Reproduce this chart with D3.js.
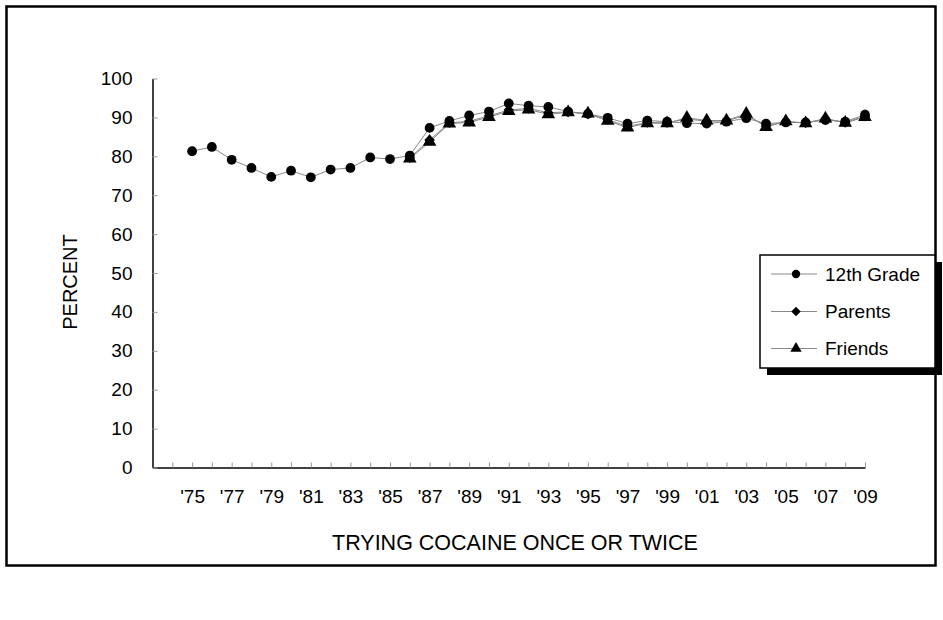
<!DOCTYPE html>
<html>
<head>
<meta charset="utf-8">
<script src="https://cdn.jsdelivr.net/npm/d3@7"></script>
<style>
  body { margin: 0; background: #fff; }
  text { font-family: "Liberation Sans", Arial, sans-serif; fill: #000; }
</style>
</head>
<body>
<svg id="chart" width="943" height="620"></svg>
<script>
// years on the category axis (the axis itself starts two slots earlier, at 1973)
const years = [1975, 1976, 1977, 1978, 1979, 1980, 1981, 1982, 1983, 1984, 1985, 1986,
  1987, 1988, 1989, 1990, 1991, 1992, 1993, 1994, 1995, 1996, 1997, 1998, 1999,
  2000, 2001, 2002, 2003, 2004, 2005, 2006, 2007, 2008, 2009];

const grade12 = [81.3, 82.4, 79.1, 77.0, 74.7, 76.3, 74.6, 76.6, 77.0, 79.7, 79.3, 80.2,
  87.3, 89.1, 90.5, 91.5, 93.6, 93.0, 92.7, 91.5, 90.9, 89.9, 88.4, 89.2, 88.9,
  88.5, 88.4, 88.9, 89.8, 88.4, 88.7, 88.7, 89.3, 88.9, 90.7];

// parents and friends start in 1986
const parents = [null, null, null, null, null, null, null, null, null, null, null, 79.6,
  84.2, 88.6, 89.0, 90.4, 91.9, 92.3, 91.2, 91.4, 90.9, 89.4, 87.7, 88.7, 88.6,
  89.6, 89.0, 89.1, 90.6, 87.8, 88.9, 88.6, 89.6, 88.7, 90.3];

const friends = [null, null, null, null, null, null, null, null, null, null, null, 79.4,
  83.7, 88.4, 88.7, 90.1, 91.6, 92.0, 90.8, 91.3, 91.0, 89.1, 87.4, 88.5, 88.5,
  89.9, 89.2, 89.2, 90.9, 87.5, 89.0, 88.5, 89.7, 88.6, 90.1];

const tickLabels = ["'75", "'77", "'79", "'81", "'83", "'85", "'87", "'89", "'91", "'93",
  "'95", "'97", "'99", "'01", "'03", "'05", "'07", "'09"];
const yTicks = [0, 10, 20, 30, 40, 50, 60, 70, 80, 90, 100];

const svg = d3.select('#chart');

// outer frame
svg.append("rect")
    .attr("x", 6.5).attr("y", 6.5)
    .attr("width", 929).attr("height", 559)
    .attr("fill", "none").attr("stroke", "#000").attr("stroke-width", 2.5);

const x = d3.scaleLinear().domain([1973, 2009]).range([152.5, 865]);
const y = d3.scaleLinear().domain([0, 100]).range([467.5, 78.5]);

// label lookup for odd years
const labelFor = {};
tickLabels.forEach((t, i) => { labelFor[1975 + 2 * i] = t; });

const xAxis = svg.append("g")
    .attr("transform", "translate(0," + y(0) + ")")
    .call(d3.axisBottom(x)
        .tickValues(d3.range(1974, 2010))
        .tickSizeInner(-5).tickSizeOuter(0)
        .tickPadding(22)
        .tickFormat(d => labelFor[d] || ""));
xAxis.selectAll(".tick line").attr("stroke", "#999");
xAxis.select(".domain").attr("stroke", "#000").attr("stroke-width", 1.5);
xAxis.selectAll("text").style("font-size", "19px").attr("fill", "#000");

const yAxis = svg.append("g")
    .attr("transform", "translate(" + x(1973) + ",0)")
    .call(d3.axisLeft(y)
        .tickValues(yTicks)
        .tickSizeInner(-5).tickSizeOuter(0)
        .tickPadding(20));
yAxis.selectAll(".tick line").attr("stroke", "#999");
yAxis.select(".domain").attr("stroke", "#000").attr("stroke-width", 1.5);
yAxis.selectAll("text").style("font-size", "19px").attr("fill", "#000");

// axis titles
svg.append("text")
    .attr("x", 515).attr("y", 543)
    .attr("text-anchor", "middle").attr("dominant-baseline", "central")
    .style("font-size", "21.5px")
    .text("TRYING COCAINE ONCE OR TWICE");

svg.append("text")
    .attr("transform", "translate(70,282) rotate(-90)")
    .attr("text-anchor", "middle").attr("dominant-baseline", "central")
    .style("font-size", "20px")
    .text("PERCENT");

// diamond = square turned 45 degrees
const series = [
  { name: "12th Grade", values: grade12, symbol: d3.symbolCircle, size: 75, rot: 0 },
  { name: "Parents", values: parents, symbol: d3.symbolSquare, size: 55, rot: 45 },
  { name: "Friends", values: friends, symbol: d3.symbolTriangle, size: 80, rot: 0 }
];

const line = d3.line()
    .defined(d => d.v != null)
    .x(d => x(d.year))
    .y(d => y(d.v));

series.forEach(s => {
  const pts = years.map((yr, i) => ({ year: yr, v: s.values[i] }));
  svg.append("path")
      .datum(pts)
      .attr("d", line)
      .attr("fill", "none")
      .attr("stroke", "#888")
      .attr("stroke-width", 1);
});

series.forEach(s => {
  const pts = years.map((yr, i) => ({ year: yr, v: s.values[i] })).filter(d => d.v != null);
  svg.append("g").selectAll("path")
      .data(pts)
      .enter().append("path")
      .attr("transform", d => "translate(" + x(d.year) + "," + y(d.v) + ") rotate(" + s.rot + ")")
      .attr("d", d3.symbol().type(s.symbol).size(s.size))
      .attr("fill", "#000");
});

// legend
const legend = svg.append("g");
legend.append("rect")
    .attr("x", 767).attr("y", 262).attr("width", 175).attr("height", 113)
    .attr("fill", "#000");
legend.append("rect")
    .attr("x", 760).attr("y", 255).attr("width", 175).attr("height", 113)
    .attr("fill", "#fff").attr("stroke", "#000").attr("stroke-width", 1.5);

const rowY = [274, 311.5, 348.5];
series.forEach((s, i) => {
  const g = legend.append("g").attr("transform", "translate(0," + rowY[i] + ")");
  g.append("line")
      .attr("x1", 771).attr("x2", 817)
      .attr("stroke", "#888").attr("stroke-width", 1);
  g.append("path")
      .attr("transform", "translate(796,0) rotate(" + s.rot + ")")
      .attr("d", d3.symbol().type(s.symbol).size(s.rot ? 45 : 55))
      .attr("fill", "#000");
  g.append("text")
      .attr("x", 825).attr("y", 0)
      .attr("dominant-baseline", "central")
      .style("font-size", "19px")
      .text(s.name);
});
</script>
</body>
</html>
